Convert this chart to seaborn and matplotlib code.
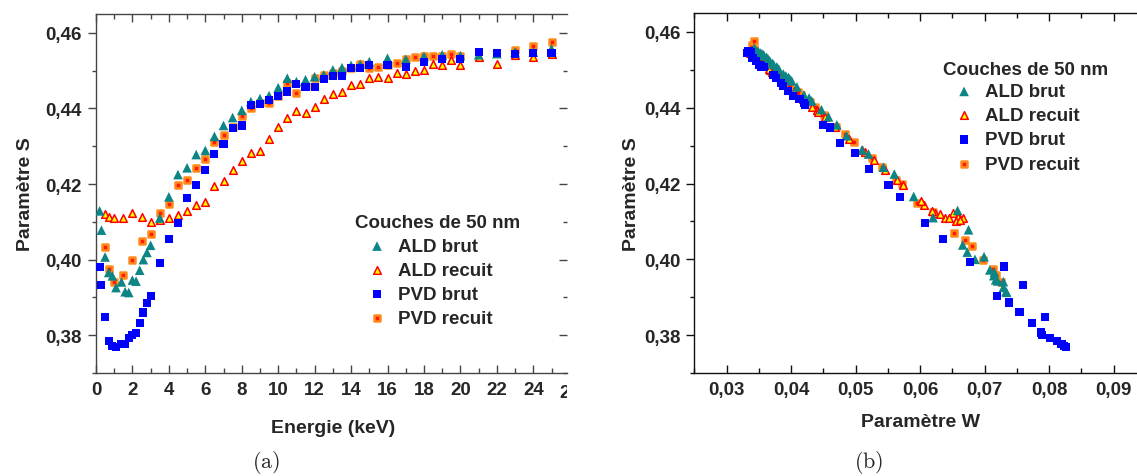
import matplotlib
matplotlib.use("Agg")
import matplotlib.pyplot as plt
import seaborn as sns
from matplotlib.ticker import FuncFormatter, MultipleLocator
from matplotlib.transforms import Bbox, TransformedBbox, blended_transform_factory

# ---- data ----
# ALD brut
energy_ald_brut = [0.2, 0.3, 0.5, 0.7, 0.9, 1.1, 1.4, 1.6, 1.8, 2.0, 2.2, 2.4, 2.6, 2.8, 3.0,
                   3.5, 4.0, 4.5, 5.0, 5.5, 6.0, 6.5, 7.0, 7.5, 8.0, 8.5, 9.0, 9.5, 10.0, 10.5,
                   11.0, 11.5, 12.0, 12.5, 13.0, 13.5, 14.0, 14.5, 15.0,
                   16.0, 17.0, 18.0, 19.0, 20.0, 21.0, 22.0, 23.0, 24.0, 25.0]
s_ald_brut = [0.4129, 0.4078, 0.4007, 0.3966, 0.3957, 0.3926, 0.3941, 0.3915, 0.3913, 0.3946,
              0.3943, 0.3972, 0.4000, 0.4019, 0.4038,
              0.4110, 0.4166, 0.4225, 0.4243, 0.4278, 0.4289, 0.4326, 0.4355, 0.4376, 0.4395,
              0.4418, 0.4426, 0.4434, 0.4455, 0.4480, 0.4471, 0.4476, 0.4484, 0.4489, 0.4502,
              0.4508, 0.4514, 0.4517, 0.4524,
              0.4533, 0.4530, 0.4538, 0.4542, 0.4540, 0.4542, 0.4545, 0.4549, 0.4549, 0.4558]
w_ald_brut = [0.0658, 0.0675, 0.0699, 0.0715, 0.0714, 0.0729, 0.0729, 0.0733, 0.0734, 0.0717,
              0.0720, 0.0708, 0.0685, 0.0673, 0.0666,
              0.0620, 0.0590, 0.0560, 0.0543, 0.0520, 0.0510, 0.0486, 0.0471, 0.0458, 0.0447,
              0.0432, 0.0428, 0.0420, 0.0409, 0.0396, 0.0401, 0.0398, 0.0392, 0.0388, 0.0381,
              0.0378, 0.0373, 0.0371, 0.0367,
              0.0362, 0.0364, 0.0358, 0.0355, 0.0357, 0.0354, 0.0352, 0.0349, 0.0347, 0.0343]

# ALD recuit
energy_ald_recuit = [0.5, 0.7, 1.0, 1.5, 2.0, 2.5, 3.0, 3.5, 4.0, 4.5, 5.0, 5.5, 6.0, 6.5, 7.0,
                     7.5, 8.0, 8.5, 9.0, 9.5, 10.0, 10.5, 11.0, 11.5, 12.0, 12.5, 13.0, 13.5,
                     14.0, 14.5, 15.0, 15.5, 16.0, 16.5, 17.0, 17.5, 18.0, 18.5, 19.0, 19.5,
                     20.0, 21.0, 22.0, 23.0, 24.0, 25.0]
s_ald_recuit = [0.4122, 0.4113, 0.4110, 0.4109, 0.4123, 0.4113, 0.4100, 0.4104, 0.4109, 0.4119,
                0.4128, 0.4144, 0.4153, 0.4196, 0.4209, 0.4236, 0.4262, 0.4282, 0.4288, 0.4318,
                0.4350, 0.4375, 0.4393, 0.4389, 0.4403, 0.4424, 0.4439, 0.4443, 0.4463, 0.4465,
                0.4480, 0.4484, 0.4481, 0.4494, 0.4491, 0.4499, 0.4502, 0.4518, 0.4514, 0.4527,
                0.4514, 0.4536, 0.4518, 0.4542, 0.4537, 0.4545]
w_ald_recuit = [0.0651, 0.0660, 0.0667, 0.0639, 0.0623, 0.0658, 0.0655, 0.0662, 0.0645, 0.0630,
                0.0618, 0.0606, 0.0601, 0.0573, 0.0564, 0.0546, 0.0528, 0.0514, 0.0510, 0.0490,
                0.0468, 0.0452, 0.0440, 0.0442, 0.0433, 0.0418, 0.0408, 0.0405, 0.0392, 0.0390,
                0.0381, 0.0378, 0.0380, 0.0371, 0.0373, 0.0368, 0.0366, 0.0355, 0.0358, 0.0349,
                0.0358, 0.0343, 0.0355, 0.0339, 0.0342, 0.0337]

# PVD brut
energy_pvd_brut = [0.2, 0.3, 0.5, 0.7, 0.9, 1.1, 1.4, 1.6, 1.8, 2.0, 2.2, 2.4, 2.6, 2.8, 3.0,
                   3.5, 4.0, 4.5, 5.0, 5.5, 6.0, 6.5, 7.0, 7.5, 8.0, 8.5, 9.0, 9.5, 10.0, 10.5,
                   11.0, 11.5, 12.0, 12.5, 13.0, 13.5, 14.0, 14.5, 15.0,
                   16.0, 17.0, 18.0, 19.0, 20.0, 21.0, 22.0, 23.0, 24.0, 25.0]
s_pvd_brut = [0.3981, 0.3933, 0.3849, 0.3784, 0.3771, 0.3769, 0.3777, 0.3776, 0.3792, 0.3800,
              0.3807, 0.3833, 0.3860, 0.3886, 0.3904,
              0.3992, 0.4054, 0.4097, 0.4164, 0.4197, 0.4238, 0.4280, 0.4307, 0.4348, 0.4355,
              0.4408, 0.4412, 0.4423, 0.4432, 0.4445, 0.4465, 0.4457, 0.4457, 0.4478, 0.4486,
              0.4487, 0.4507, 0.4508, 0.4514,
              0.4514, 0.4509, 0.4523, 0.4531, 0.4531, 0.4549, 0.4547, 0.4544, 0.4546, 0.4546]
w_pvd_brut = [0.0730, 0.0759, 0.0793, 0.0812, 0.0823, 0.0826, 0.0818, 0.0820, 0.0801, 0.0789,
              0.0787, 0.0774, 0.0754, 0.0737, 0.0719,
              0.0677, 0.0635, 0.0608, 0.0569, 0.0551, 0.0521, 0.0499, 0.0476, 0.0460, 0.0450,
              0.0422, 0.0420, 0.0413, 0.0403, 0.0395, 0.0385, 0.0388, 0.0387, 0.0376, 0.0373,
              0.0372, 0.0358, 0.0356, 0.0352,
              0.0350, 0.0354, 0.0346, 0.0341, 0.0340, 0.0334, 0.0336, 0.0332, 0.0338, 0.0335]

# PVD recuit
energy_pvd_recuit = [0.5, 0.7, 1.0, 1.5, 2.0, 2.5, 3.0, 3.5, 4.0, 4.5, 5.0, 5.5, 6.0, 6.5, 7.0,
                     7.5, 8.0, 8.5, 9.0, 9.5, 10.0, 10.5, 11.0, 11.5, 12.0, 12.5, 13.0, 13.5,
                     14.0, 14.5, 15.0, 15.5, 16.0, 16.5, 17.0, 17.5, 18.0, 18.5, 19.0, 19.5,
                     20.0, 23.0, 24.0, 25.0]
s_pvd_recuit = [0.4034, 0.3975, 0.3940, 0.3959, 0.3998, 0.4050, 0.4069, 0.4124, 0.4148, 0.4198,
                0.4210, 0.4243, 0.4267, 0.4310, 0.4330, 0.4350, 0.4380, 0.4402, 0.4414, 0.4415,
                0.4434, 0.4468, 0.4441, 0.4460, 0.4480, 0.4488, 0.4495, 0.4500, 0.4508, 0.4518,
                0.4506, 0.4509, 0.4515, 0.4521, 0.4530, 0.4537, 0.4538, 0.4538, 0.4540, 0.4543,
                0.4540, 0.4556, 0.4566, 0.4575]
w_pvd_recuit = [0.0680, 0.0713, 0.0726, 0.0718, 0.0697, 0.0670, 0.0653, 0.0620, 0.0595, 0.0572,
                0.0563, 0.0541, 0.0526, 0.0497, 0.0484, 0.0470, 0.0451, 0.0437, 0.0429, 0.0428,
                0.0416, 0.0394, 0.0411, 0.0398, 0.0385, 0.0380, 0.0376, 0.0372, 0.0367, 0.0360,
                0.0368, 0.0366, 0.0362, 0.0358, 0.0353, 0.0348, 0.0347, 0.0348, 0.0346, 0.0344,
                0.0346, 0.0343, 0.0340, 0.0343]

energy_ticks = [0, 2, 4, 6, 8, 10, 12, 14, 16, 18, 20, 22, 24]
s_ticks = [0.38, 0.40, 0.42, 0.44, 0.46]
w_ticks = [0.03, 0.04, 0.05, 0.06, 0.07, 0.08, 0.09]

# ---- style ----
sns.set_style("ticks")
plt.rcParams["font.family"] = ["Liberation Sans", "DejaVu Sans"]
plt.rcParams["font.weight"] = "bold"
plt.rcParams["mathtext.fontset"] = "cm"

series = [
    ("ALD brut", energy_ald_brut, s_ald_brut, w_ald_brut,
     dict(marker="^", color="#0e8585", edgecolor="none", s=48, linewidth=0, zorder=4)),
    ("ALD recuit", energy_ald_recuit, s_ald_recuit, w_ald_recuit,
     dict(marker="^", color="#ffff00", edgecolor="#ff0000", s=30, linewidth=1.1, zorder=3)),
    ("PVD brut", energy_pvd_brut, s_pvd_brut, w_pvd_brut,
     dict(marker="s", color="#0000ff", edgecolor="none", s=34, linewidth=0, zorder=5)),
    ("PVD recuit", energy_pvd_recuit, s_pvd_recuit, w_pvd_recuit,
     dict(marker="s", color="#ff1a00", edgecolor="#ff8a1a", s=22, linewidth=1.8, zorder=2)),
]

comma = FuncFormatter(lambda v, p: f"{v:.2f}".replace(".", ","))

fig = plt.figure(figsize=(11.37, 4.77), dpi=100)
ax1 = fig.add_axes([0.0844, 0.2159, 0.4143, 0.7527])
ax2 = fig.add_axes([0.6106, 0.2159, 0.3894, 0.7547])

for label, energy, s_par, w_par, kw in series:
    sns.scatterplot(x=energy, y=s_par, ax=ax1, label=label, legend=False, **kw)
    sns.scatterplot(x=w_par, y=s_par, ax=ax2, label=label, legend=False, **kw)


def style_axes(ax, spine_color):
    ax.set_ylim(0.370, 0.465)
    ax.set_yticks(s_ticks)
    ax.yaxis.set_minor_locator(MultipleLocator(0.01))
    ax.yaxis.set_major_formatter(comma)
    for side in ["left", "top", "bottom"]:
        ax.spines[side].set_color(spine_color)
        ax.spines[side].set_linewidth(1.0)
    ax.spines["right"].set_visible(False)
    ax.tick_params(axis="x", which="major", direction="in", length=6, width=1.0,
                   top=True, bottom=True, color=spine_color, labelsize=13.5, pad=6)
    ax.tick_params(axis="x", which="minor", direction="in", length=3.5, width=1.0,
                   top=True, bottom=True, color=spine_color)
    ax.tick_params(axis="y", which="major", direction="out", length=6, width=1.0,
                   left=True, right=False, color=spine_color, labelsize=13.5, pad=4)
    ax.tick_params(axis="y", which="minor", direction="out", length=3, width=1.0,
                   left=True, right=False, color=spine_color)
    for t in ax.get_xticklabels() + ax.get_yticklabels():
        t.set_fontweight("bold")


# (a) S vs energy
ax1.set_xlim(0, 25.85)
ax1.set_xticks(energy_ticks)
ax1.xaxis.set_minor_locator(MultipleLocator(1))
style_axes(ax1, "#454545")
ax1.set_xlabel("Energie (keV)", fontsize=14, fontweight="bold")
ax1.set_ylabel("Paramètre S", fontsize=14, fontweight="bold")
ax1.xaxis.set_label_coords(0.503, -0.128)
ax1.yaxis.set_label_coords(-0.131, 0.5)

# inward ticks of the (cropped) right border
ax1r = ax1.secondary_yaxis("right")
ax1r.yaxis.set_major_locator(MultipleLocator(0.02))
ax1r.yaxis.set_minor_locator(MultipleLocator(0.01))
ax1r.spines["right"].set_visible(False)
ax1r.tick_params(which="major", direction="in", length=6, width=1.0, color="#454545", labelright=False)
ax1r.tick_params(which="minor", direction="in", length=3, width=1.0, color="#454545")

# partially cut "26" label at the crop edge
trans = blended_transform_factory(ax1.transData, ax1.transAxes)
lbl = ax1.text(26, -0.03, "26", transform=trans, ha="center", va="top",
               fontsize=13.5, fontweight="bold")
lbl.set_clip_path(None)
lbl.set_clip_box(TransformedBbox(Bbox([[-0.5, -1.0], [1.0, 1.0]]), ax1.transAxes))
lbl.set_clip_on(True)

# (b) S vs W
ax2.set_xlim(0.025, 0.0936)
ax2.set_xticks(w_ticks)
ax2.xaxis.set_minor_locator(MultipleLocator(0.005))
ax2.xaxis.set_major_formatter(comma)
style_axes(ax2, "#111111")
ax2.set_xlabel("Paramètre W", fontsize=14, fontweight="bold")
ax2.set_ylabel("Paramètre S", fontsize=14, fontweight="bold")
ax2.xaxis.set_label_coords(0.51, -0.112)
ax2.yaxis.set_label_coords(-0.122, 0.5)

# legends: title drawn as text, entries block placed below it
for ax, title_pos, anchor in [(ax1, (0.726, 0.420), (0.709, 0.252)),
                              (ax2, (0.749, 0.843), (0.729, 0.681))]:
    ax.text(*title_pos, "Couches de 50 nm", transform=ax.transAxes, ha="center",
            va="center", fontsize=13.5, fontweight="bold")
    handles, labels = ax.get_legend_handles_labels()
    leg = ax.legend(handles, labels, loc="center", bbox_to_anchor=anchor,
                    frameon=False, fontsize=13.5, handlelength=1.0, handletextpad=0.6,
                    labelspacing=0.37, borderpad=0.2, markerscale=1.0)
    for t in leg.get_texts():
        t.set_fontweight("bold")

fig.text(266 / 1137, 1 - 463 / 477, r"$\mathrm{(a)}$", ha="center", va="center", fontsize=16)
fig.text(869 / 1137, 1 - 463 / 477, r"$\mathrm{(b)}$", ha="center", va="center", fontsize=16)

fig.savefig("out.png", dpi=100)
